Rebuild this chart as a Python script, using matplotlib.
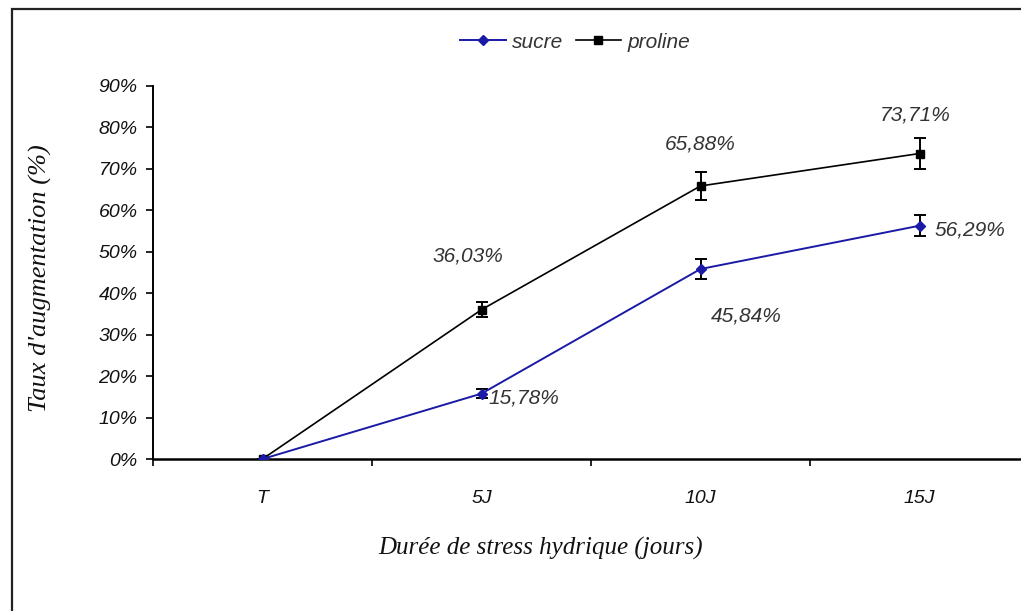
import matplotlib
matplotlib.use("Agg")
import matplotlib.pyplot as plt
from matplotlib.patches import Rectangle
from matplotlib.lines import Line2D
from matplotlib.ticker import FuncFormatter, FixedLocator

# Durée de stress hydrique
categories = ["T", "5J", "10J", "15J"]

# Taux d'augmentation (%)
sucre = [0.0, 15.78, 45.84, 56.29]
proline = [0.0, 36.03, 65.88, 73.71]

# Écarts (barres d'erreur)
sucre_err = [0.0, 1.0, 2.4, 2.6]
proline_err = [0.0, 1.8, 3.3, 3.7]

y_ticks = [0, 10, 20, 30, 40, 50, 60, 70, 80, 90]

narrow = ["Liberation Sans Narrow", "Liberation Sans", "DejaVu Sans"]
sans = ["Liberation Sans", "DejaVu Sans"]
serif = ["Liberation Serif", "DejaVu Serif"]
text_col = "#333333"
blue = "#1a1aa6"

fig = plt.figure(figsize=(10.21, 6.11), dpi=100)

# outer frame
fig.patches.append(Rectangle((12 / 1021, -0.2), 1.5, 1.2 - 9 / 611,
                             transform=fig.transFigure, fill=False,
                             edgecolor="#222222", linewidth=1.6))

ax = fig.add_axes([153 / 1021, 1 - 459 / 611, 876 / 1021, 373 / 611])
x = list(range(len(categories)))

ax.errorbar(x, proline, yerr=proline_err, color="black", marker="s",
            markersize=6, linewidth=1.2, ecolor="black", elinewidth=1.4,
            capsize=4, capthick=1.4, zorder=3)
ax.errorbar(x, sucre, yerr=sucre_err, color=blue, marker="D",
            markersize=5, linewidth=1.4, ecolor="black", elinewidth=1.4,
            capsize=4, capthick=1.4, zorder=4)

ax.set_xlim(-0.5, len(categories) - 0.5)
ax.set_ylim(0, 90)

for s in ["top", "right"]:
    ax.spines[s].set_visible(False)
ax.spines["left"].set_linewidth(1.4)
ax.spines["bottom"].set_linewidth(1.8)

ax.yaxis.set_major_locator(FixedLocator(y_ticks))
ax.yaxis.set_major_formatter(FuncFormatter(lambda v, p: f"{v:.0f}%"))
ax.tick_params(axis="y", direction="out", length=5, width=1.2, pad=6,
               labelsize=14)
ax.set_xticks(x)
ax.set_xticklabels(categories)
ax.set_xticks([i - 0.5 for i in range(len(categories) + 1)], minor=True)
ax.tick_params(axis="x", which="major", length=0, pad=22, labelsize=14)
ax.tick_params(axis="x", which="minor", direction="out", length=5, width=1.2)
for lab in ax.get_xticklabels() + ax.get_yticklabels():
    lab.set_family(sans)
    lab.set_style("italic")
    lab.set_color("#111111")

# axis titles
fig.text(541 / 1021, 1 - 548 / 611, "Durée de stress hydrique (jours)",
         family=serif, style="italic", fontsize=18, color="#111111",
         ha="center", va="center")
fig.text(40 / 1021, 1 - 278 / 611, "Taux d'augmentation (%)",
         family=serif, style="italic", fontsize=19, color="#111111",
         ha="center", va="center", rotation=90)

# value labels
lab_kw = dict(family=narrow, style="italic", fontsize=15, color=text_col)
ax.annotate(f"{proline[1]:.2f}%".replace(".", ","), (x[1], proline[1]),
            xytext=(-10, 39), textcoords="offset points", ha="center",
            va="center", **lab_kw)
ax.annotate(f"{proline[2]:.2f}%".replace(".", ","), (x[2], proline[2]),
            xytext=(0, 30), textcoords="offset points", ha="center",
            va="center", **lab_kw)
ax.annotate(f"{proline[3]:.2f}%".replace(".", ","), (x[3], proline[3]),
            xytext=(-3, 28), textcoords="offset points", ha="center",
            va="center", **lab_kw)
ax.annotate(f"{sucre[1]:.2f}%".replace(".", ","), (x[1], sucre[1]),
            xytext=(5, -3), textcoords="offset points", ha="left",
            va="center", **lab_kw)
ax.annotate(f"{sucre[2]:.2f}%".replace(".", ","), (x[2], sucre[2]),
            xytext=(33, -34), textcoords="offset points", ha="center",
            va="center", **lab_kw)
ax.annotate(f"{sucre[3]:.2f}%".replace(".", ","), (x[3], sucre[3]),
            xytext=(11, -3), textcoords="offset points", ha="left",
            va="center", **lab_kw)

handles = [
    Line2D([], [], color=blue, marker="D", markersize=5, linewidth=1.4),
    Line2D([], [], color="black", marker="s", markersize=6, linewidth=1.2),
]
leg = fig.legend(handles, ["sucre", "proline"], loc="center",
                 bbox_to_anchor=(575 / 1021, 1 - 42 / 611), ncol=2,
                 frameon=False, handlelength=2.2, handletextpad=0.3,
                 columnspacing=0.6,
                 prop={"family": narrow, "style": "italic", "size": 15})
for t in leg.get_texts():
    t.set_color(text_col)

fig.savefig("out.png", dpi=100)
